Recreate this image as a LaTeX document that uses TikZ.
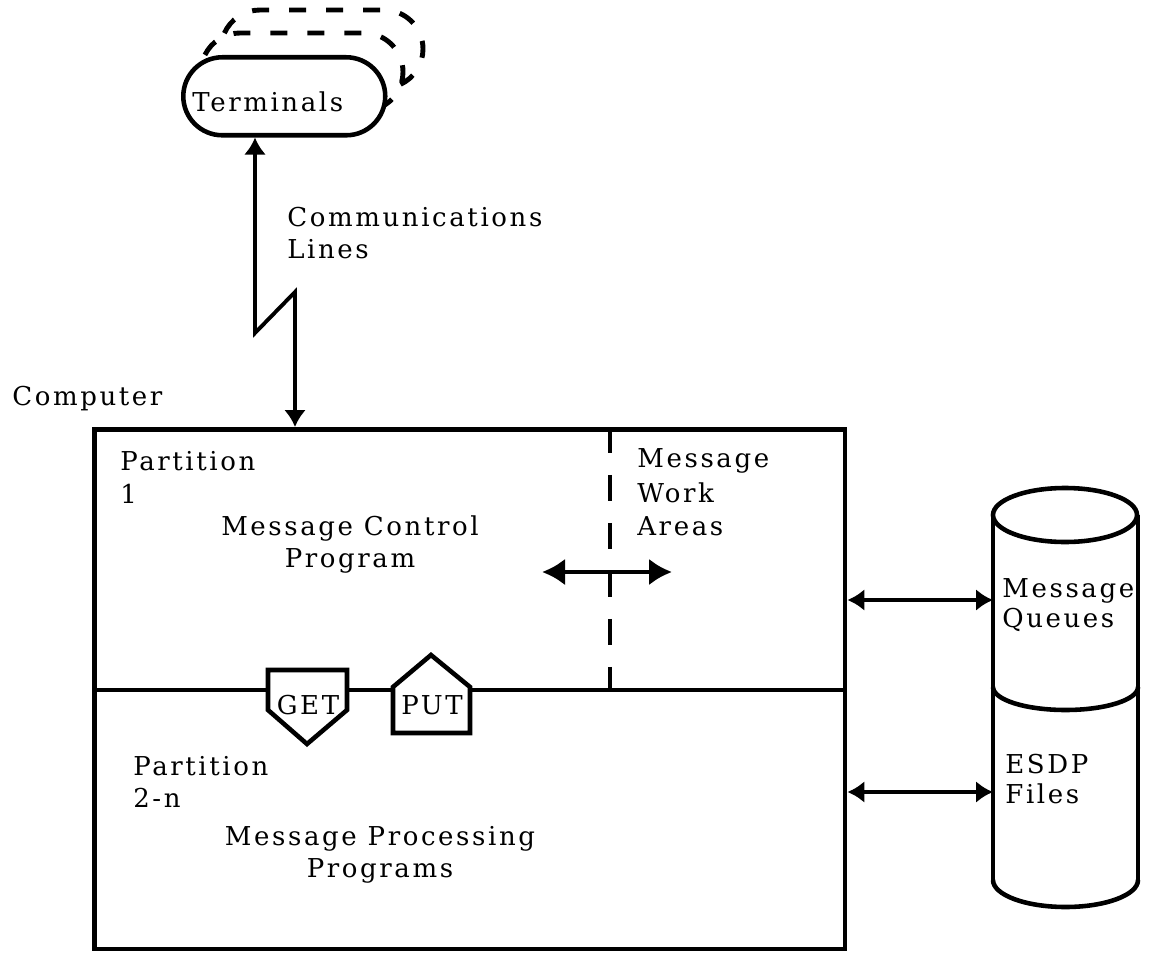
\documentclass[tikz,border=0pt]{standalone}
\usepackage{fontspec}
\setmainfont{DejaVu Serif}[LetterSpace=10]
\usetikzlibrary{arrows.meta}
\begin{document}
\begin{tikzpicture}[x=0.02cm,y=-0.02cm,
  txt/.style={font=\fontsize{14.8}{18}\selectfont, inner sep=0pt, anchor=base west},
  ctxt/.style={font=\fontsize{14.8}{18}\selectfont, inner sep=0pt, anchor=base},
  boxline/.style={line width=2.6pt},
  conn/.style={line width=2.2pt},
  biarrow/.style={conn, {Latex[length=0.34cm,width=0.44cm]}-{Latex[length=0.34cm,width=0.44cm]}},
  bigarrow/.style={line width=2.6pt, {Latex[length=0.46cm,width=0.54cm]}-{Latex[length=0.46cm,width=0.54cm]}},
  termdash/.style={line width=2.8pt, dash pattern=on 0.34cm off 0.4cm},
  partdash/.style={boxline, dash pattern=on 0.52cm off 0.44cm}]
\useasboundingbox (0,0) rectangle (1149,956);

% terminals (stacked)
\draw[termdash] (260,49) ++(204:39) arc[start angle=204, end angle=270, radius=39] -- (384,10) arc[start angle=270, end angle=425, radius=39];
\draw[termdash] (240,72) ++(206:39) arc[start angle=206, end angle=270, radius=39] -- (364,33) arc[start angle=270, end angle=425, radius=39];
\node[draw, boxline, fill=white, rounded corners=0.78cm, minimum width=4.04cm, minimum height=1.56cm, inner sep=0pt, anchor=north west] (terminals) at (181,55) {};
\node[txt] (termlabel) at (192,112) {Terminals};

% main computer box
\node[draw, boxline, minimum width=15.02cm, minimum height=10.4cm, inner sep=0pt, anchor=north west] (computer) at (92,427) {};
\coordinate (midY) at (0,690);
\draw[boxline] (computer.west |- midY) -- (computer.east |- midY);

% communications line
\coordinate (zA) at (255,333);
\coordinate (zB) at (295,292);
\draw[biarrow] (zA |- terminals.south) -- (zA) -- (zB) -- (zB |- computer.north);
\node[txt] (comm1) at (287,227) {Communications};
\node[txt] (comm2) at (287,258) {Lines};
\node[txt] (computerlabel) at (12,405) {Computer};

% partition 1
\node[txt] (p1a) at (120,470) {Partition};
\node[txt] (p1b) at (120,503) {1};
\node[ctxt] (mcp1) at (350,535) {Message Control};
\node[ctxt] (mcp2) at (350,567) {Program};

% message work areas
\draw[partdash] (610,427) -- (610,690);
\coordinate (mwL) at (542,572);
\coordinate (mwR) at (672,572);
\draw[bigarrow] (mwL) -- (mwR);
\node[txt] (mwa1) at (637,467) {Message};
\node[txt] (mwa2) at (637,502) {Work};
\node[txt] (mwa3) at (637,535) {Areas};

% GET / PUT
\draw[boxline, fill=white] (268,670) -- (347,670) -- (347,710) -- (307,744) -- (268,710) -- cycle;
\node[ctxt] (get) at (308,714) {GET};
\draw[boxline, fill=white] (393,733) -- (470,733) -- (470,687) -- (431,655) -- (393,687) -- cycle;
\node[ctxt] (put) at (432,714) {PUT};

% partition 2-n
\node[txt] (p2a) at (133,775) {Partition};
\node[txt] (p2b) at (133,807) {2-n};
\node[ctxt] (mpp1) at (380,845) {Message Processing};
\node[ctxt] (mpp2) at (380,877) {Programs};

% cylinder
\draw[boxline] (1065,515) ellipse[x radius=72, y radius=27];
\draw[boxline] (993,515) -- (993,880);
\draw[boxline] (1138,515) -- (1138,880);
\draw[boxline] (993,687) arc[start angle=180, end angle=0, x radius=72.5, y radius=23];
\draw[boxline] (993,880) arc[start angle=180, end angle=0, x radius=72.5, y radius=27];
\coordinate (qL) at (993,600);
\coordinate (fL) at (993,792);
\draw[biarrow] (computer.east |- qL) -- (qL);
\draw[biarrow] (computer.east |- fL) -- (fL);
\node[txt] (mq1) at (1002,597) {Message};
\node[txt] (mq2) at (1002,627) {Queues};
\node[txt] (ef1) at (1005,773) {ESDP};
\node[txt] (ef2) at (1005,803) {Files};
\end{tikzpicture}
\end{document}
